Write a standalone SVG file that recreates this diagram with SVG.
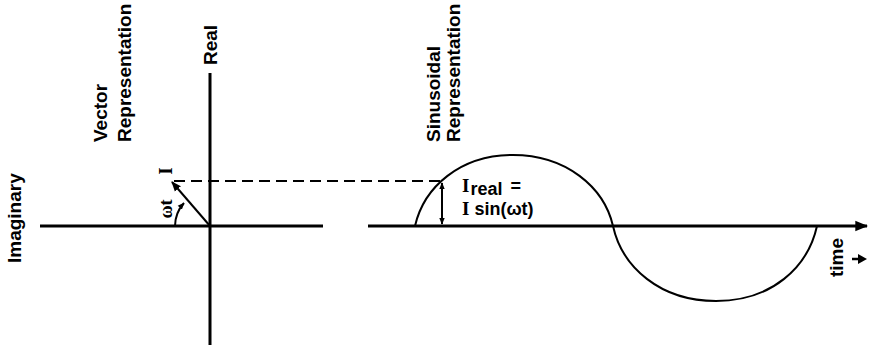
<svg xmlns="http://www.w3.org/2000/svg" width="870" height="352" viewBox="0 0 870 352">
<style>
.lbl{font-family:"Liberation Sans",Arial,sans-serif;font-weight:bold;font-size:19px;fill:#000}
.eq{font-family:"Liberation Sans",Arial,sans-serif;font-weight:bold;font-size:18px;fill:#000}
.ser{font-family:"Liberation Serif","Times New Roman",serif;font-weight:bold;fill:#000}
.axis{stroke:#000;stroke-width:3;fill:none}
.thin{stroke:#000;stroke-width:2;fill:none}
</style>
<defs>
<marker id="ah" viewBox="0 0 10 10" refX="9" refY="5" markerWidth="10" markerHeight="10" markerUnits="userSpaceOnUse" orient="auto-start-reverse">
<path d="M0,1 L10,5 L0,9 Z" fill="#000"/>
</marker>
<marker id="ahs" viewBox="0 0 10 10" refX="9" refY="5" markerWidth="7" markerHeight="7" markerUnits="userSpaceOnUse" orient="auto-start-reverse">
<path d="M0,1 L10,5 L0,9 Z" fill="#000"/>
</marker>
<marker id="ahb" viewBox="0 0 10 10" refX="9" refY="5" markerWidth="13" markerHeight="13" markerUnits="userSpaceOnUse" orient="auto">
<path d="M0,1 L10,5 L0,9 Z" fill="#000"/>
</marker>
</defs>
<g id="vector-axes">
<line class="axis" x1="40" y1="226" x2="323" y2="226"/>
<line class="axis" x1="210" y1="73" x2="210" y2="345"/>
<text class="lbl" transform="translate(217,65) rotate(-90)">Real</text>
<text class="lbl" transform="translate(21,263) rotate(-90)">Imaginary</text>
<text class="lbl" transform="translate(107,142) rotate(-90)">Vector</text>
<text class="lbl" transform="translate(131,142) rotate(-90)">Representation</text>
</g>
<g id="vector">
<line class="thin" x1="210" y1="226" x2="172" y2="182" marker-end="url(#ah)"/>
<path class="thin" d="M175,226 A35,35 0 0 1 184,203" marker-end="url(#ahs)"/>
<text class="ser" font-size="19" transform="translate(172,171) rotate(-90)" text-anchor="middle">I</text>
<text class="ser" font-size="18" transform="translate(172,209) rotate(-90)" text-anchor="middle">ωt</text>
</g>
<g id="sinusoid">
<line class="axis" stroke-width="2.5" x1="368" y1="226" x2="867" y2="226" marker-end="url(#ahb)"/>
<path class="thin" d="M415,226 C424,187 460,155 513,155 C566,155 604,187 613,226 C622,267 660,301 716,301 C772,301 808,267 817,226"/>
<text class="lbl" transform="translate(440,142) rotate(-90)">Sinusoidal</text>
<text class="lbl" transform="translate(460,142) rotate(-90)">Representation</text>
<text class="lbl" font-size="18" transform="translate(843,277) rotate(-90)">time</text>
<line stroke="#000" stroke-width="2.5" x1="852" y1="259" x2="860" y2="259"/>
<polygon points="858,254 867,259 858,264" fill="#000"/>
</g>
<g id="connectors">
<line stroke="#000" stroke-width="2" stroke-dasharray="11,6" x1="174" y1="181" x2="441" y2="181"/>
<line class="thin" stroke-width="1.5" x1="442" y1="183" x2="442" y2="224" marker-start="url(#ahs)" marker-end="url(#ahs)"/>
</g>
<g id="formula">
<text x="462" y="192"><tspan class="ser" font-size="19">I</tspan><tspan class="eq" font-size="12" dy="3" dx="1">real</tspan><tspan class="eq" dy="-3" dx="8">=</tspan></text>
<text x="462" y="215"><tspan class="ser" font-size="19">I</tspan><tspan class="eq"> sin(ωt)</tspan></text>
</g>
</svg>
